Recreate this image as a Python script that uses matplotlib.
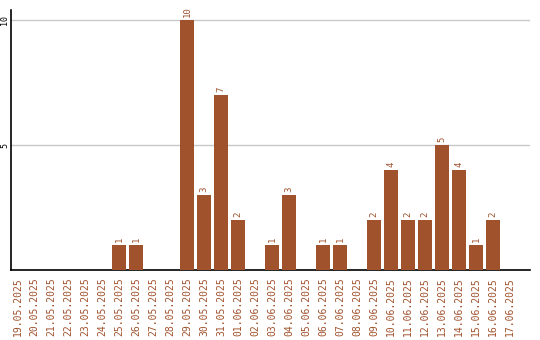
import matplotlib
matplotlib.use("Agg")
import matplotlib.pyplot as plt
import numpy as np

dates = [
    "19.05.2025", "20.05.2025", "21.05.2025", "22.05.2025", "23.05.2025",
    "24.05.2025", "25.05.2025", "26.05.2025", "27.05.2025", "28.05.2025",
    "29.05.2025", "30.05.2025", "31.05.2025", "01.06.2025", "02.06.2025",
    "03.06.2025", "04.06.2025", "05.06.2025", "06.06.2025", "07.06.2025",
    "08.06.2025", "09.06.2025", "10.06.2025", "11.06.2025", "12.06.2025",
    "13.06.2025", "14.06.2025", "15.06.2025", "16.06.2025", "17.06.2025",
]
counts = [0, 0, 0, 0, 0, 0, 1, 1, 0, 0, 10, 3, 7, 2, 0,
          1, 3, 0, 1, 1, 0, 2, 4, 2, 2, 5, 4, 1, 2, 0]
y_ticks = [5, 10]

BAR = "#a0522d"
W, H = 540, 340


def main():
    fig = plt.figure(figsize=(W / 100, H / 100), dpi=100)
    ax = fig.add_axes([10.5 / W, (H - 270) / H, 519.5 / W, 260 / H])

    x = np.arange(len(dates))
    ax.bar(x, counts, width=14 / 17, color=BAR, zorder=3)
    for xi, c in zip(x, counts):
        if c > 0:
            ax.text(xi, c + 0.12, str(c), rotation=90, ha="center", va="bottom",
                    color=BAR, fontsize=6.5, family="DejaVu Sans Mono")

    ax.set_xlim(-7 / 17, 29 + 20 / 17)
    ax.set_ylim(0, 10.4)
    ax.set_yticks(y_ticks)
    ax.set_yticklabels([str(t) for t in y_ticks], rotation=90, va="center",
                       ha="right", fontsize=6, family="DejaVu Sans Mono")
    ax.tick_params(axis="y", length=0, pad=1)
    ax.yaxis.grid(True, color="#c8c8c8", linewidth=1, zorder=0)

    ax.set_xticks(x)
    ax.set_xticklabels(dates, rotation=90, color=BAR, fontsize=7,
                       family="DejaVu Sans Mono")
    ax.tick_params(axis="x", length=0, pad=5)

    for side in ("top", "right"):
        ax.spines[side].set_visible(False)
    ax.spines["left"].set_linewidth(1.2)
    ax.spines["bottom"].set_linewidth(1.2)

    fig.savefig("out.png", dpi=100)


if __name__ == "__main__":
    main()
